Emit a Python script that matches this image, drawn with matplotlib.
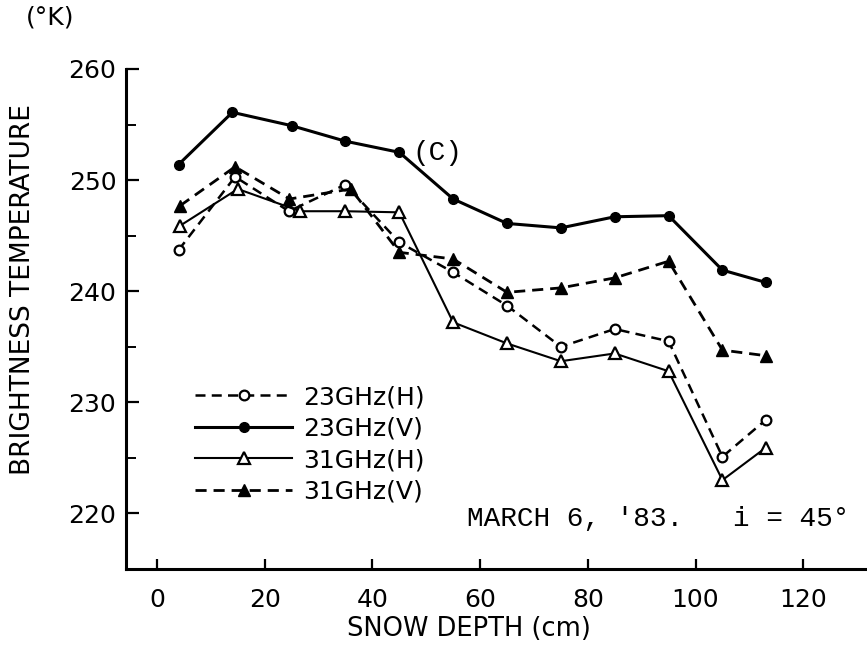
import matplotlib
matplotlib.use("Agg")
import matplotlib.pyplot as plt
from matplotlib.ticker import MultipleLocator

# ---- data ----
depth_23H = [4, 14.5, 24.5, 35, 45, 55, 65, 75, 85, 95, 105, 113]
tb_23H = [243.7, 250.3, 247.2, 249.6, 244.4, 241.7, 238.7, 235.0, 236.6, 235.5, 225.1, 228.4]

depth_23V = [4, 14, 25, 35, 45, 55, 65, 75, 85, 95, 105, 113]
tb_23V = [251.4, 256.1, 254.9, 253.5, 252.5, 248.3, 246.1, 245.7, 246.7, 246.8, 241.9, 240.8]

depth_31H = [4.3, 15, 26.6, 35, 45, 55, 65, 75, 85, 95, 105, 113]
tb_31H = [245.9, 249.2, 247.2, 247.2, 247.1, 237.2, 235.3, 233.7, 234.4, 232.8, 223.0, 225.9]

depth_31V = [4.3, 14.5, 24.6, 36, 45, 55, 65, 75, 85, 95, 105, 113]
tb_31V = [247.7, 251.2, 248.3, 249.2, 243.5, 242.9, 239.9, 240.3, 241.2, 242.7, 234.7, 234.2]

labels = ["23GHz(H)", "23GHz(V)", "31GHz(H)", "31GHz(V)"]
x_ticks = [0, 20, 40, 60, 80, 100, 120]
y_ticks = [220, 230, 240, 250, 260]

W, H = 867, 651
fig = plt.figure(figsize=(W / 100, H / 100), dpi=100)
fig.patch.set_facecolor("white")

# axes placed in pixels
left_px, right_px, top_px, bottom_px = 126, 866, 69, 569
ax = fig.add_axes([left_px / W, (H - bottom_px) / H,
                   (right_px - left_px) / W, (bottom_px - top_px) / H])

px_per_cm = 5.385
x0_px = 157
ax.set_xlim(-(x0_px - left_px) / px_per_cm, (right_px - x0_px) / px_per_cm)
ax.set_ylim(215, 260)

ms = 7
ax.plot(depth_23H, tb_23H, color="black", lw=1.8, ls=(0, (4, 2.5)),
        marker="o", mfc="white", mec="black", mew=1.6, ms=ms, label=labels[0])
ax.plot(depth_23V, tb_23V, color="black", lw=2.2, ls="-",
        marker="o", mfc="black", mec="black", ms=ms, label=labels[1])
ax.plot(depth_31H, tb_31H, color="black", lw=1.5, ls="-",
        marker="^", mfc="white", mec="black", mew=1.6, ms=ms + 1, label=labels[2])
ax.plot(depth_31V, tb_31V, color="black", lw=2.0, ls=(0, (4, 2.5)),
        marker="^", mfc="black", mec="black", ms=ms + 1, label=labels[3])

for s in ["top", "right"]:
    ax.spines[s].set_visible(False)
for s in ["left", "bottom"]:
    ax.spines[s].set_linewidth(2.2)

ax.set_xticks(x_ticks)
ax.set_yticks(y_ticks)
ax.yaxis.set_minor_locator(MultipleLocator(5))
ax.tick_params(axis="y", which="major", direction="in", length=9, width=1.6,
               labelsize=18, pad=7)
ax.tick_params(axis="y", which="minor", direction="in", length=7, width=1.4)
ax.tick_params(axis="x", which="major", direction="in", length=7, width=1.6,
               labelsize=18, pad=14)

ax.set_xlabel("SNOW DEPTH (cm)", fontsize=18.5)
ax.xaxis.set_label_coords(0.464, -0.095)
ax.set_ylabel("BRIGHTNESS TEMPERATURE", fontsize=19)
ax.yaxis.set_label_coords(-0.122, 0.558)

fig.text(50 / W, 1 - 18 / H, "(°K)", fontsize=18, ha="center", va="center")

ax.text(52, 252.4, "(C)", fontsize=20, family="Liberation Mono",
        ha="center", va="center")
ax.text(57.5, 219.5, "MARCH 6, '83.   i = 45°", fontsize=20,
        family="Liberation Mono", ha="left", va="center")

leg = ax.legend(loc="upper left", bbox_to_anchor=(0.093, 0.368), frameon=False,
                fontsize=18, handlelength=3.9, handletextpad=0.45,
                labelspacing=0.3, borderpad=0, borderaxespad=0, numpoints=1)

fig.savefig("out.png", dpi=100, facecolor="white")
